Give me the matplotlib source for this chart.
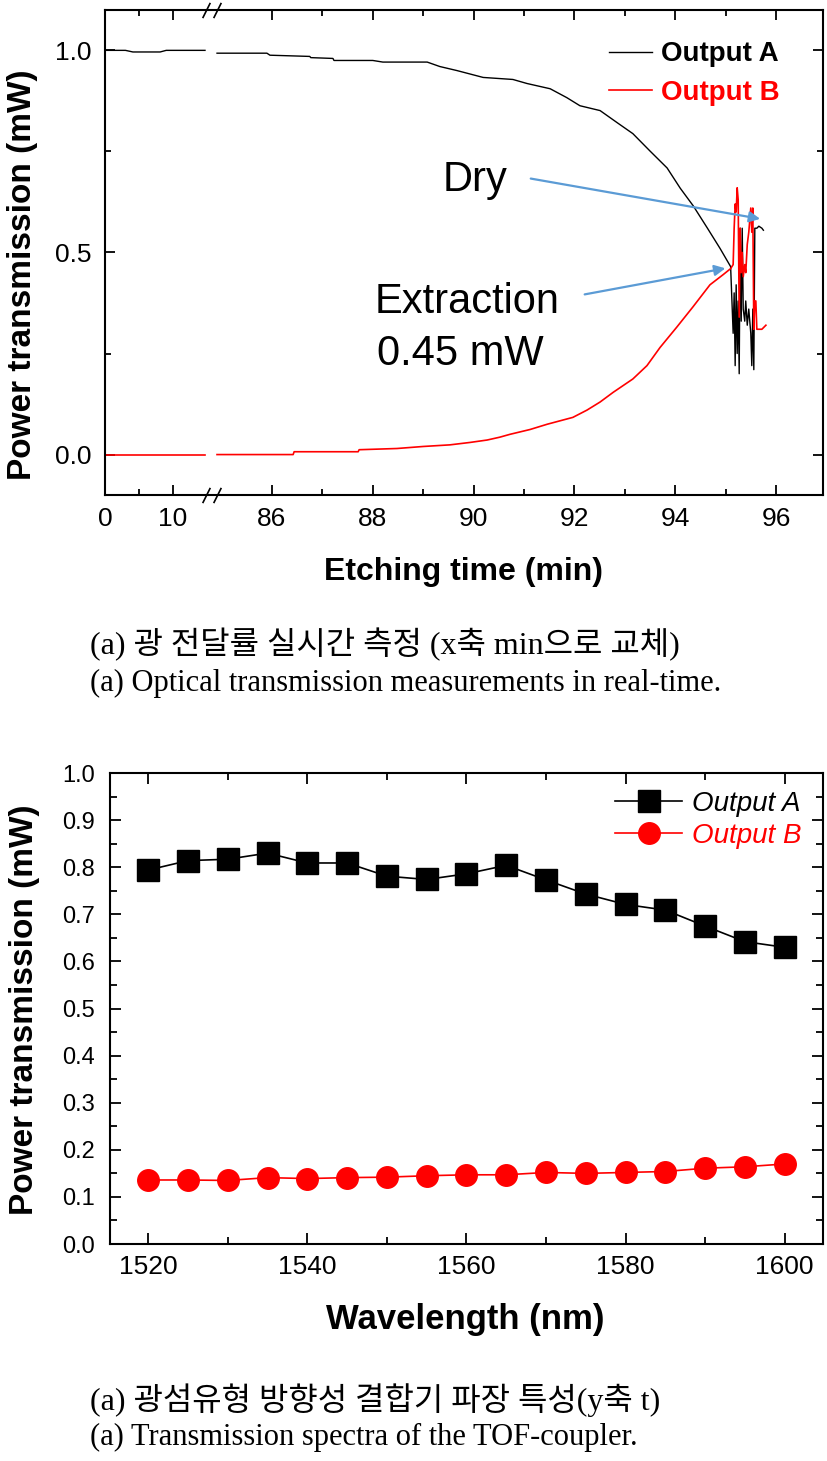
import numpy as np
import matplotlib.pyplot as plt

plt.rcParams['font.family'] = ['Liberation Sans', 'DejaVu Sans']

# ---- (top) etching time data ----
t_left = [0, 3.0, 4.1, 8.1, 9.0, 14.7]
a_left = [1.0, 1.0, 0.996, 0.996, 1.0, 1.0]
b_left = [0.0, 0.0, 0.0, 0.0, 0.0, 0.0]

t_a = [84.91, 85.90, 85.96, 86.75, 86.77, 87.21, 87.23, 88.00, 88.20, 89.08,
       89.33, 89.67, 90.19, 90.78, 91.06, 91.52, 91.85, 92.11, 92.51, 92.85,
       93.16, 93.50, 93.84, 94.10, 94.36, 94.64, 94.89, 95.10,
       95.15, 95.17, 95.19, 95.21, 95.23, 95.25, 95.27, 95.29, 95.31, 95.33,
       95.35, 95.38, 95.40, 95.43, 95.46, 95.50, 95.52, 95.54, 95.56, 95.58,
       95.62, 95.66, 95.72, 95.75]
p_a = [0.993, 0.993, 0.988, 0.985, 0.982, 0.980, 0.975, 0.975, 0.971, 0.971,
       0.960, 0.950, 0.933, 0.928, 0.918, 0.905, 0.883, 0.863, 0.851, 0.821,
       0.794, 0.751, 0.709, 0.659, 0.615, 0.560, 0.510, 0.465,
       0.30, 0.40, 0.22, 0.42, 0.25, 0.38, 0.20, 0.56, 0.33, 0.56,
       0.36, 0.33, 0.38, 0.32, 0.36, 0.30, 0.22, 0.36, 0.21, 0.56,
       0.56, 0.565, 0.56, 0.555]

t_b = [84.91, 86.42, 86.44, 87.71, 87.73, 88.48, 89.00, 89.53, 89.93, 90.27,
       90.52, 90.72, 91.12, 91.46, 91.97, 92.25, 92.51, 92.77, 93.16, 93.44,
       93.70, 94.03, 94.35, 94.69, 94.95, 95.10,
       95.15, 95.17, 95.19, 95.21, 95.23, 95.25, 95.27, 95.29, 95.31, 95.33,
       95.35, 95.38, 95.40, 95.43, 95.46, 95.50, 95.52, 95.54, 95.56, 95.58,
       95.60, 95.62, 95.72, 95.80]
p_b = [0.0, 0.0, 0.007, 0.007, 0.012, 0.015, 0.020, 0.024, 0.030, 0.036,
       0.043, 0.050, 0.062, 0.075, 0.092, 0.110, 0.130, 0.154, 0.187, 0.220,
       0.265, 0.315, 0.365, 0.420, 0.445, 0.460,
       0.47, 0.56, 0.62, 0.60, 0.66, 0.63, 0.34, 0.56, 0.45, 0.50,
       0.44, 0.47, 0.45, 0.52, 0.55, 0.61, 0.55, 0.61, 0.31, 0.38,
       0.38, 0.31, 0.31, 0.32]

# ---- (bottom) wavelength data ----
wl = [1520, 1525, 1530, 1535, 1540, 1545, 1550, 1555, 1560, 1565,
      1570, 1575, 1580, 1585, 1590, 1595, 1600]
out_a = [0.794, 0.814, 0.817, 0.830, 0.809, 0.809, 0.781, 0.774, 0.786, 0.804,
         0.773, 0.743, 0.721, 0.709, 0.675, 0.642, 0.630]
out_b = [0.136, 0.136, 0.135, 0.141, 0.139, 0.141, 0.142, 0.145, 0.147, 0.147,
         0.152, 0.150, 0.152, 0.154, 0.161, 0.164, 0.170]

cap_font = ['Liberation Serif', 'Noto Sans CJK KR']

fig = plt.figure(figsize=(8.27, 14.61), dpi=100)

# 끊어진 x축: 0~14.85 와 84.91~ 구간을 이어붙이는 스케일
x_knots = [0, 14.85, 84.91, 100]
u_knots = [0, 1.01, 1.12, 8.726]


def fwd(x):
    return np.interp(np.asarray(x, float), x_knots, u_knots)


def inv(u):
    return np.interp(np.asarray(u, float), u_knots, x_knots)


# ===== 위 그래프 =====
ax1 = fig.add_axes([0.127, 0.6612, 0.868, 0.3320])
ax1.set_xscale('function', functions=(fwd, inv))
ax1.plot(t_left, a_left, color='black', lw=1.0)
ax1.plot(t_left, b_left, color='red', lw=1.2)
ax1.plot(t_a, p_a, color='black', lw=1.0, label='Output A')
ax1.plot(t_b, p_b, color='red', lw=1.2, label='Output B')

ax1.set_xlim(0, 96.93)
ax1.set_ylim(-0.1, 1.1)
ax1.set_xticks([0, 10, 86, 88, 90, 92, 94, 96])
ax1.set_xticks([5, 87, 89, 91, 93, 95], minor=True)
ax1.set_yticks([0.0, 0.5, 1.0])
ax1.set_yticks([0.25, 0.75], minor=True)
ax1.tick_params(which='both', direction='in', top=True, right=True, width=1.3)
ax1.tick_params(which='major', length=7, labelsize=19)
ax1.tick_params(which='minor', length=4)
ax1.tick_params(axis='x', pad=9)
ax1.tick_params(axis='y', pad=10)
for s in ax1.spines.values():
    s.set_linewidth(1.5)

# 축 끊김 표시
ax1.plot([14.85, 84.91], [0, 0], transform=ax1.get_xaxis_transform(),
         marker=[(-0.5, -1), (0.5, 1)], markersize=11, linestyle='none',
         color='k', mec='k', mew=1.2, clip_on=False)
ax1.plot([14.85, 84.91], [1, 1], transform=ax1.get_xaxis_transform(),
         marker=[(-0.5, -1), (0.5, 1)], markersize=11, linestyle='none',
         color='k', mec='k', mew=1.2, clip_on=False)

ax1.set_xlabel('Etching time (min)', fontsize=23, fontweight='bold', va='center')
ax1.xaxis.set_label_coords(0.5, -0.159)
ax1.set_ylabel('Power transmission (mW)', fontsize=24, fontweight='bold', va='center')
ax1.yaxis.set_label_coords(-0.1156, 0.4536)

# 주석
arrow_c = '#5b9bd5'
ax1.annotate('', xy=(95.74, 0.582), xytext=(91.08, 0.684),
             arrowprops=dict(arrowstyle='-|>', color=arrow_c, lw=1.6, mutation_scale=16))
ax1.annotate('', xy=(95.05, 0.462), xytext=(92.15, 0.395),
             arrowprops=dict(arrowstyle='-|>', color=arrow_c, lw=1.6, mutation_scale=16))
ax1.text(89.39, 0.68, 'Dry', fontsize=30, va='center', ha='left')
ax1.text(88.04, 0.378, 'Extraction', fontsize=30, va='center', ha='left')
ax1.text(88.08, 0.249, '0.45 mW', fontsize=30, va='center', ha='left')

leg1 = ax1.legend(loc='upper right', bbox_to_anchor=(0.955, 0.958), frameon=False,
                  prop={'size': 20, 'weight': 'bold'}, handlelength=1.55,
                  handletextpad=0.3, labelspacing=0.45, borderaxespad=0)
leg1.get_texts()[1].set_color('red')

fig.text(90 / 827, 1 - 645 / 1461, '(a) 광 전달률 실시간 측정 (x축 min으로 교체)',
         family=cap_font, fontsize=23, va='center')
fig.text(90 / 827, 1 - 683 / 1461, '(a) Optical transmission measurements in real-time.',
         family=cap_font, fontsize=22, va='center')

# ===== 아래 그래프 =====
ax2 = fig.add_axes([0.133, 0.1485, 0.862, 0.3224])
ax2.plot(wl, out_a, color='black', lw=1.2, marker='s', markersize=16, label='Output A')
ax2.plot(wl, out_b, color='red', lw=1.2, marker='o', markersize=15.5, label='Output B')
ax2.set_xlim(1515.2, 1604.8)
ax2.set_ylim(0, 1.0)
ax2.set_xticks([1520, 1540, 1560, 1580, 1600])
ax2.set_xticks([1530, 1550, 1570, 1590], minor=True)
ax2.set_yticks(np.arange(0, 1.01, 0.1))
ax2.set_yticks(np.arange(0.05, 1.0, 0.1), minor=True)
ax2.yaxis.set_major_formatter(plt.FormatStrFormatter('%.1f'))
ax2.tick_params(which='both', direction='in', top=True, right=True, width=1.3)
ax2.tick_params(which='major', length=8)
ax2.tick_params(which='minor', length=5)
ax2.tick_params(axis='x', labelsize=19, pad=8)
ax2.tick_params(axis='y', labelsize=17, pad=11)
for s in ax2.spines.values():
    s.set_linewidth(1.5)

ax2.set_xlabel('Wavelength (nm)', fontsize=25, fontweight='bold', va='center')
ax2.xaxis.set_label_coords(0.499, -0.161)
ax2.set_ylabel('Power transmission (mW)', fontsize=24, fontweight='bold', va='center')
ax2.yaxis.set_label_coords(-0.1206, 0.497)

leg2 = ax2.legend(loc='upper right', bbox_to_anchor=(0.985, 0.985), frameon=False,
                  prop={'size': 20, 'style': 'italic'}, handlelength=2.4,
                  handletextpad=0.35, labelspacing=0.2, borderaxespad=0)
leg2.get_texts()[1].set_color('red')

fig.text(90 / 827, 1 - 1400 / 1461, '(a) 광섬유형 방향성 결합기 파장 특성(y축 t)',
         family=cap_font, fontsize=23, va='center')
fig.text(90 / 827, 1 - 1437 / 1461, '(a) Transmission spectra of the TOF-coupler.',
         family=cap_font, fontsize=22, va='center')

fig.savefig('out.png', dpi=100)
